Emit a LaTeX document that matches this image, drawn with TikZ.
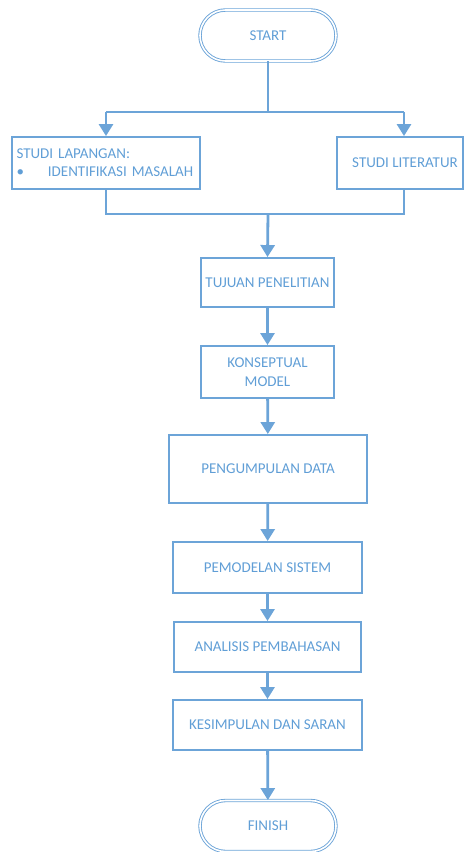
\documentclass[tikz,border=0pt]{standalone}
\usepackage{fontspec}
\setmainfont{Carlito}
\usetikzlibrary{shapes.misc,arrows.meta}
\definecolor{ln}{RGB}{108,164,216}
\definecolor{tx}{RGB}{96,158,214}
\tikzset{
  x=1pt,y=-1pt,
  every node/.style={font=\fontsize{15}{19}\selectfont, text=tx},
  box/.style={draw=ln, line width=1.9pt, rectangle, inner sep=0pt, align=center},
  pill/.style={draw=ln, rounded rectangle, double=white, double distance=1.6pt, line width=0.9pt, inner sep=0pt, minimum width=136, minimum height=51},
  conn/.style={draw=ln, line width=2.8pt},
  arr/.style={conn, -{Triangle[width=14pt,length=12pt]}}
}
\begin{document}
\begin{tikzpicture}
\useasboundingbox (0,0) rectangle (464,852);
\node[pill] (start) at (268,35.5) {START};
\node[box, minimum width=188, minimum height=52, text width=184, align=left] (lap) at (106,163) {\hspace*{2.5pt}STUDI LAPANGAN:\\[-1pt]\hspace*{2.5pt}\textbullet\hspace{24pt}IDENTIFIKASI MASALAH};
\node[box, minimum width=126, minimum height=52] (lit) at (400,163) {\hspace{10pt}STUDI LITERATUR};
\node[box, minimum width=133, minimum height=49] (tuj) at (267.5,282.5) {TUJUAN PENELITIAN};
\node[box, minimum width=133, minimum height=52] (kon) at (267.5,372) {KONSEPTUAL\\MODEL};
\node[box, minimum width=198, minimum height=68] (peng) at (268,469) {PENGUMPULAN DATA};
\node[box, minimum width=189, minimum height=51] (pem) at (267.5,567.5) {PEMODELAN SISTEM};
\node[box, minimum width=187, minimum height=50] (ana) at (267.5,647) {ANALISIS PEMBAHASAN};
\node[box, minimum width=189, minimum height=50] (kes) at (267.5,725) {KESIMPULAN DAN SARAN};
\node[pill] (fin) at (268,826) {FINISH};
\coordinate (j1) at (268,112);
\coordinate (jl) at (106,112);
\coordinate (jr) at (404,112);
\coordinate (j2) at (268,214);
\coordinate (bl) at (106,214);
\coordinate (br) at (404,214);
\draw[conn] (start.south) -- (j1);
\draw[conn] (jl) -- (jr);
\draw[arr] (jl) -- (lap.north);
\draw[arr] (jr) -- (jr |- lit.north);
\draw[conn] (lap.south) -- (bl) -- (br) -- (br |- lit.south);
\draw[arr] (j2) -- (tuj.north);
\draw[arr] (tuj) -- (kon);
\draw[arr] (kon) -- (peng);
\draw[arr] (peng) -- (pem);
\draw[arr] (pem) -- (ana);
\draw[arr] (ana) -- (kes);
\draw[arr] (kes) -- (fin);
\end{tikzpicture}
\end{document}
